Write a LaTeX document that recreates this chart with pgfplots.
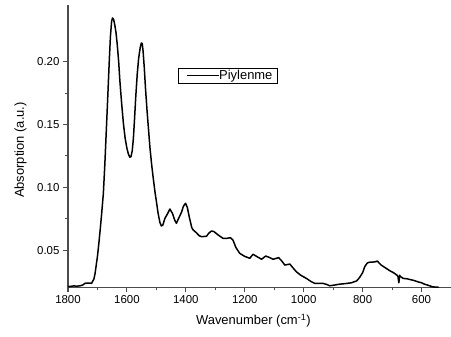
\documentclass[border=0pt]{standalone}
\usepackage{pgfplots}
\pgfplotsset{compat=1.18}
\usepackage{fontspec}
\setmainfont{Liberation Sans}
\begin{document}
\begin{tikzpicture}
\useasboundingbox (-68bp,-49.7bp) rectangle (383bp,287.3bp);
\begin{axis}[
  at={(0,0)}, anchor=south west,
  scale only axis, width=383bp, height=282.3bp,
  x dir=reverse, xmin=500, xmax=1800, ymin=0.0204, ymax=0.2451,
  axis x line*=bottom, axis y line*=left,
  axis line style={draw=black!70, line width=1.1pt},
  xtick={600,800,...,1800}, minor x tick num=1,
  ytick={0.05,0.10,0.15,0.20}, minor y tick num=1,
  tick align=outside, tick style={draw=black!70, line width=1.1pt},
  major tick length=5bp, minor tick length=3bp,
  ticklabel style={font=\fontsize{11.5}{13}\selectfont},
  /pgf/number format/assume math mode=true,
  xticklabel style={/pgf/number format/1000 sep={}},
  yticklabel style={/pgf/number format/fixed, /pgf/number format/fixed zerofill, /pgf/number format/precision=2},
  xlabel={Wavenumber (cm\textsuperscript{-1})},
  ylabel={Absorption (a.u.)},
  label style={font=\fontsize{13}{15}\selectfont},
  xlabel style={at={(0.484,-0.1183)}, anchor=center},
  ylabel style={at={(-0.1240,0.486)}, anchor=center},
  legend style={at={(0.288,0.778)}, anchor=north west, draw=black, line width=0.7pt,
    inner xsep=0pt, inner ysep=0pt, font=\fontsize{13}{15}\selectfont,
    nodes={inner xsep=0pt, inner ysep=2.2bp}},
  legend cell align=left,
  legend image code/.code={\path[draw=none, fill=none] (0bp,-1bp) -- (0bp,1bp); \draw[#1, line width=1.1pt] (8.4bp,0bp) -- (40bp,0bp);},
]
\addplot[black, line width=1.5pt, line join=round] coordinates {
(1800,0.0209) (1790,0.0212) (1780,0.0215) (1770,0.0213) (1759,0.0216) (1750,0.0222)
(1742,0.0236) (1730,0.0238) (1720,0.0236) (1712,0.0270) (1708,0.0315) (1703,0.0400)
(1700,0.0450) (1695,0.0560) (1690,0.0680) (1685,0.0810) (1680,0.0950) (1675,0.1180)
(1670,0.1450) (1665,0.1720) (1660,0.2000) (1656,0.2200) (1652,0.2320) (1649,0.2348)
(1645,0.2335) (1641,0.2290) (1637,0.2230) (1633,0.2140) (1628,0.2000) (1624,0.1850)
(1618,0.1670) (1612,0.1510) (1606,0.1390) (1600,0.1310) (1595,0.1265) (1590,0.1239)
(1586,0.1245) (1582,0.1290) (1578,0.1390) (1574,0.1550) (1570,0.1720) (1565,0.1900)
(1560,0.2030) (1555,0.2110) (1551,0.2148) (1548,0.2145) (1545,0.2080) (1541,0.1950)
(1537,0.1790) (1532,0.1620) (1527,0.1470) (1522,0.1320) (1516,0.1180) (1510,0.1060)
(1504,0.0950) (1499,0.0873) (1494,0.0790) (1488,0.0720) (1483,0.0692) (1478,0.0700)
(1471,0.0753) (1462,0.0790) (1454,0.0827) (1445,0.0790)
(1438,0.0740) (1432,0.0713) (1425,0.0750) (1415,0.0800) (1408,0.0850) (1401,0.0873)
(1395,0.0840) (1388,0.0760) (1380,0.0680) (1375,0.0660) (1365,0.0640) (1355,0.0615)
(1347,0.0607) (1330,0.0610) (1322,0.0635) (1313,0.0652) (1305,0.0648) (1290,0.0620)
(1274,0.0594) (1262,0.0593) (1249,0.0599) (1240,0.0580) (1230,0.0520) (1217,0.0474)
(1200,0.0450) (1183,0.0435) (1172,0.0467) (1160,0.0450) (1143,0.0427) (1129,0.0453)
(1115,0.0440) (1104,0.0427) (1085,0.0440) (1075,0.0415) (1064,0.0381) (1047,0.0389)
(1035,0.0355) (1025,0.0328) (1010,0.0300) (991,0.0275) (975,0.0250) (963,0.0236)
(950,0.0235) (935,0.0236) (920,0.0225) (912,0.0216) (895,0.0222) (878,0.0229)
(860,0.0233) (838,0.0240) (820,0.0255) (810,0.0283) (800,0.0320) (793,0.0367)
(785,0.0395) (779,0.0403) (765,0.0405) (755,0.0408) (750,0.0413) (745,0.0400)
(737,0.0381) (720,0.0355) (708,0.0336) (695,0.0320) (684,0.0302) (680,0.0290)
(677,0.0240) (674,0.0300) (672,0.0288) (668,0.0285) (663,0.0275) (650,0.0272)
(641,0.0267) (625,0.0258) (613,0.0248) (600,0.0240) (590,0.0229) (575,0.0218)
(562,0.0208) (550,0.0205) (540,0.0204)
};
\addlegendentry{Piylenme\kern5bp}
\end{axis}
\end{tikzpicture}
\end{document}
